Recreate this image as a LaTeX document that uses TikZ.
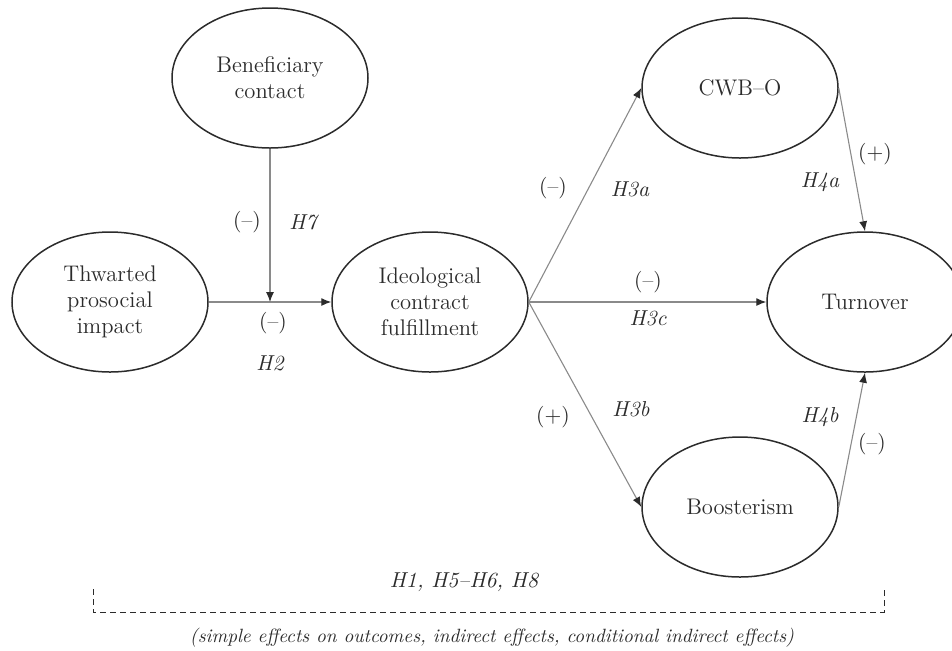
\documentclass[tikz,border=0pt]{standalone}
\usepackage{xcolor}
\usepackage{tikz}
\usetikzlibrary{arrows.meta,shapes.geometric}
\definecolor{ink}{HTML}{2B2B2B}
\definecolor{wire}{HTML}{8A8A8A}
\tikzset{
  construct/.style={ellipse, draw=ink, line width=0.75pt, minimum width=98pt,
    minimum height=70pt, inner sep=0pt, align=center, text=ink,
    font=\fontsize{11.3}{13}\selectfont},
  path/.style={draw=wire, line width=0.55pt,
    -{Latex[length=5pt,width=4pt,color=ink]}},
  sign/.style={text=ink, font=\fontsize{10.8}{13}\selectfont},
  hyp/.style={text=ink, font=\fontsize{10.8}{13}\selectfont\itshape},
  bracket/.style={draw=ink, line width=0.5pt, dash pattern=on 3pt off 2pt}
}
\begin{document}
\begin{tikzpicture}[x=0.5pt,y=-0.5pt]
  \useasboundingbox (0,0) rectangle (952,650);

  % constructs
  \node[construct] (thw)   at (110,302) {Thwarted\\prosocial\\impact};
  \node[construct] (bene)  at (270,78)  {Beneficiary\\contact};
  \node[construct] (ideo)  at (430,302) {Ideological\\contract\\fulfillment};
  \node[construct] (cwb)   at (740,88)  {CWB--O};
  \node[construct] (turn)  at (865,302) {Turnover};
  \node[construct] (boost) at (740,507) {Boosterism};

  \coordinate (mod) at (bene.south |- thw.east);

  % paths
  \draw[path] (thw.east) -- (ideo.west);
  \draw[path] (bene.south) -- (mod);
  \draw[path] (ideo.east) -- (cwb.west);
  \draw[path] (ideo.east) -- (turn.west);
  \draw[path] (ideo.east) -- (boost.west);
  \draw[path] (cwb.east) -- (turn.north);
  \draw[path] (boost.east) -- (turn.south);

  % signs and hypotheses
  \node[sign] (s7)  at (247,222) {(--)};
  \node[hyp]  (h7)  at (303,222) {H7};
  \node[sign] (s2)  at (273,323) {(--)};
  \node[hyp]  (h2)  at (270,363) {H2};
  \node[sign] (s3a) at (553,188) {(--)};
  \node[hyp]  (h3a) at (630,189) {H3a};
  \node[sign] (s3c) at (648,282) {(--)};
  \node[hyp]  (h3c) at (648,318) {H3c};
  \node[sign] (s3b) at (553,417) {(+)};
  \node[hyp]  (h3b) at (631,409) {H3b};
  \node[hyp]  (h4a) at (820,182) {H4a};
  \node[sign] (s4a) at (875,154) {(+)};
  \node[hyp]  (h4b) at (820,417) {H4b};
  \node[sign] (s4b) at (872,444) {(--)};

  % overall effects
  \node[hyp] (hall) at (464,582) {H1, H5--H6, H8};
  \coordinate (bl) at (93,589);
  \coordinate (br) at (884,589);
  \draw[bracket] (bl) -- ++(0,23) -| (br);
  \node[hyp, font=\fontsize{9.6}{12}\selectfont\itshape] (note) at (492,638)
    {(simple effects on outcomes, indirect effects, conditional indirect effects)};
\end{tikzpicture}
\end{document}
